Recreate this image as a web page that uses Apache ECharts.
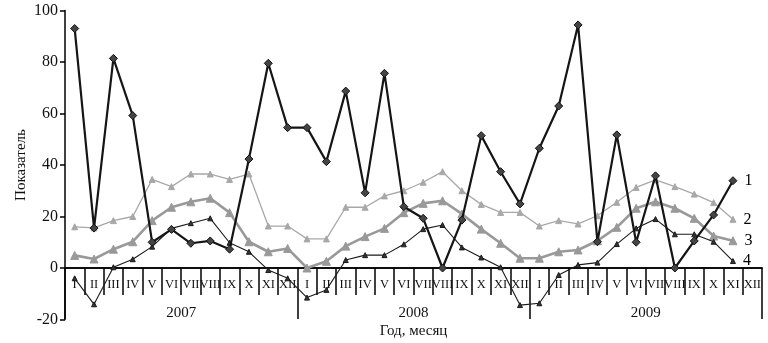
<!DOCTYPE html>
<html>
<head>
<meta charset="utf-8">
<script src="https://cdn.jsdelivr.net/npm/echarts@6/dist/echarts.min.js"></script>
<style>html,body{margin:0;padding:0;background:#fff}#c{width:768px;height:343px}</style>
</head>
<body>
<div id="c"></div>
<script>
var months = ['I','II','III','IV','V','VI','VII','VIII','IX','X','XI','XII',
              'I','II','III','IV','V','VI','VII','VIII','IX','X','XI','XII',
              'I','II','III','IV','V','VI','VII','VIII','IX','X','XI','XII'];
var years = ['2007','2008','2009'];
var yTicks = {min: -20, max: 100, interval: 20};

var series1 = [93, 15.5, 81.4, 59.2, 10, 15, 9.6, 10.5, 7.3, 42.3, 79.5, 54.5,
               54.5, 41.3, 68.7, 29.2, 75.6, 23.8, 19.3, 0, 18.6, 51.4, 37.4, 24.9,
               46.5, 62.9, 94.4, 10.2, 51.7, 10, 35.8, 0, 10.5, 20.6, 33.9];
var series2 = [16, 15.6, 18.4, 20, 34.4, 31.6, 36.5, 36.5, 34.4, 36.5, 16.3, 16.3,
               11.3, 11.3, 23.6, 23.6, 28, 30, 33.3, 37.4, 30, 24.7, 21.6, 21.6,
               16.3, 18.4, 17.1, 20.3, 25.5, 31.3, 34.2, 31.6, 28.7, 25.4, 18.9];
var series3 = [4.9, 3.5, 7.3, 10.2, 18.4, 23.6, 25.7, 27.1, 21.5, 10.2, 6.3, 7.6,
               0, 2.6, 8.5, 12.2, 15.4, 21.5, 25.1, 26.1, 21, 15.1, 9.6, 3.8,
               3.8, 6.3, 7, 10.6, 15.8, 23.2, 25.7, 23.2, 19.3, 12.4, 10.6];
var series4 = [-4, -14.1, 0.3, 3.4, 8.3, 15.4, 17.4, 19.3, 9.8, 6.3, -0.8, -4,
               -11.5, -8.5, 3.1, 5, 5, 9.2, 15.1, 16.7, 8, 4.1, 0.3, -14.4,
               -13.7, -2.7, 1.2, 2.1, 9.3, 15.4, 19, 13.1, 13.1, 10.2, 2.7];
var seriesNames = ['1','2','3','4'];

var FONT = 'Liberation Serif';
var GRID_TOP = 10.5, GRID_BOTTOM = 23.5;
var plotH = 343 - GRID_TOP - GRID_BOTTOM;
// shift x-axes up from the grid bottom (-20) to the zero level
var zeroOffset = -plotH * (0 - yTicks.min) / (yTicks.max - yTicks.min);

var chart = echarts.init(document.getElementById('c'), null, {renderer: 'canvas'});

function mkSeries(name, data, opt) {
  var last = data.length - 1;
  return {
    name: name, type: 'line', data: data, xAxisIndex: 0, yAxisIndex: 0,
    symbol: opt.symbol, symbolSize: opt.size,
    lineStyle: {color: opt.color, width: opt.width},
    itemStyle: {color: opt.fill, borderColor: opt.border, borderWidth: 1},
    z: opt.z,
    animation: false,
    label: {
      show: true, position: 'right', distance: 7,
      formatter: function (p) { return p.dataIndex === last ? name : ''; },
      fontFamily: FONT, fontSize: 16, color: '#000'
    }
  };
}

chart.setOption({
  animation: false,
  grid: {left: 65, right: 6, top: GRID_TOP, bottom: GRID_BOTTOM, containLabel: false, outerBoundsMode: 'none'},
  xAxis: [{
    type: 'category', data: months, position: 'bottom', boundaryGap: true, offset: zeroOffset,
    axisLine: {onZero: false, lineStyle: {color: '#000', width: 1.5}},
    axisTick: {show: true, inside: false, length: 27, alignWithLabel: false, interval: 0, lineStyle: {color: '#000', width: 1.5}},
    axisLabel: {interval: 0, margin: 10, fontFamily: FONT, fontSize: 12.5, color: '#111', hideOverlap: false},
    splitLine: {show: false}
  }, {
    type: 'category', data: years, position: 'bottom', boundaryGap: true, offset: zeroOffset,
    axisLine: {onZero: false, lineStyle: {color: '#000', width: 1.5}},
    axisTick: {show: true, inside: false, length: 51, alignWithLabel: false, lineStyle: {color: '#000', width: 1.5}},
    axisLabel: {margin: 38, fontFamily: FONT, fontSize: 15, color: '#111'},
    name: 'Год, месяц', nameLocation: 'middle', nameGap: 56, nameMoveOverlap: false,
    nameTextStyle: {fontFamily: FONT, fontSize: 15, color: '#111'},
    splitLine: {show: false}
  }],
  yAxis: {
    type: 'value', min: yTicks.min, max: yTicks.max, interval: yTicks.interval,
    name: 'Показатель', nameLocation: 'middle', nameGap: 36, nameMoveOverlap: false,
    nameTextStyle: {fontFamily: FONT, fontSize: 15, color: '#111'},
    axisLine: {show: true, lineStyle: {color: '#000', width: 1.5}},
    axisTick: {show: true, inside: false, length: 5, lineStyle: {color: '#000', width: 1.5}},
    axisLabel: {margin: 7, fontFamily: FONT, fontSize: 16, color: '#111'},
    splitLine: {show: false}
  },
  series: [
    mkSeries(seriesNames[1], series2, {symbol: 'triangle', size: 6, color: '#a8a8a8', width: 1.3, fill: '#a8a8a8', border: '#a8a8a8', z: 2}),
    mkSeries(seriesNames[2], series3, {symbol: 'triangle', size: 8, color: '#999999', width: 2.6, fill: '#999999', border: '#999999', z: 3}),
    mkSeries(seriesNames[3], series4, {symbol: 'triangle', size: 5, color: '#1a1a1a', width: 1.1, fill: '#333', border: '#1a1a1a', z: 4}),
    mkSeries(seriesNames[0], series1, {symbol: 'diamond', size: 8, color: '#151515', width: 2.2, fill: '#444', border: '#111', z: 5})
  ]
});
</script>
</body>
</html>
